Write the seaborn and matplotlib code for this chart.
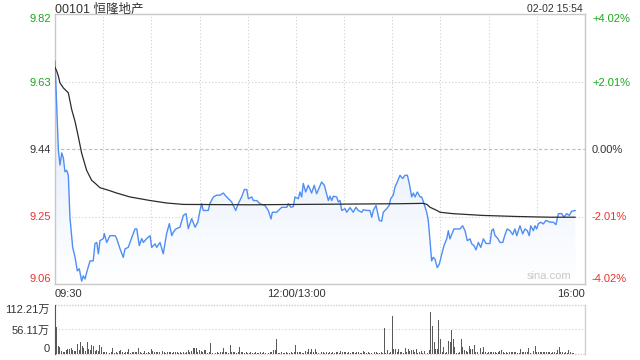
import numpy as np
import pandas as pd
import matplotlib
matplotlib.use("Agg")
import matplotlib.pyplot as plt
import seaborn as sns

# ---------------- data ----------------
title = "00101 恒隆地产"
stamp = "02-02 15:54"
prev_close = 9.44
price_ticks = [9.06, 9.25, 9.44, 9.63, 9.82]
price_tick_labels = ["9.06", "9.25", "9.44", "9.63", "9.82"]
pct_tick_labels = ["-4.02%", "-2.01%", "0.00%", "+2.01%", "+4.02%"]
time_tick_pos = [0, 150, 330]
time_tick_labels = ["09:30", "12:00/13:00", "16:00"]
vol_ticks = [0, 56.11, 112.21]
vol_tick_labels = ["0", "56.11万", "112.21万"]

# minutes since 09:30 (lunch break removed) and price
price_t = [0, 2.1, 3.1, 4.2, 5.2, 6.2, 7.3, 8.3, 9.3, 11, 12.5, 13.9, 15.1, 16.6, 17.6, 18.7, 19.7,
           21.8, 23.8, 24.9, 26, 27, 28, 30.1, 30.7, 32.2, 34.2, 37.4, 38.4, 40.5, 42.5, 43.6, 45.6,
           47.8, 49.8, 50.9, 52.5, 54, 55, 57.1, 59.2, 60.2, 62.3, 63.3, 65.4, 67.4, 69.5, 71.2,
           72.7, 73.7, 75.3, 77.8, 79.9, 81.6, 83, 85.1, 87.2, 88.9, 90.3, 91.3, 92.3, 95.4, 96.5,
           98.6, 100.7, 102.7, 104.8, 106.9, 110, 112.5, 114.1, 116.2, 117.9, 119.4, 120.4, 122.5,
           123.5, 125.6, 127.6, 130.8, 132.8, 134.5, 135.3, 138, 141.2, 144.3, 145.3, 146.9, 148.4,
           149.4, 151.5, 152.5, 153.6, 154.6, 156.1, 157.7, 159.8, 161.4, 162.9, 166, 167.7, 170.2,
           171.2, 172.3, 173.3, 175.4, 176.4, 177.5, 178.5, 180.6, 181.6, 183.7, 185.7, 187.4,
           188.8, 191, 192, 194.1, 196.1, 197.2, 198.2, 199.9, 201.9, 203.4, 204.4, 206.5, 208.1,
           209, 210.6, 211.7, 213.1, 214.8, 216.5, 217.9, 219.4, 220.6, 222.1, 223.1, 224.2, 225.6,
           227.3, 228.3, 229.8, 231.4, 232.4, 233.5, 234.5, 235.5, 236.6, 238, 239.3, 240.8, 242.2,
           243.9, 244.9, 245.9, 247.6, 248.4, 252.2, 253.8, 255.3, 256.7, 258.4, 259.5, 260.9,
           262.1, 263.6, 265.1, 266.7, 268.4, 270.8, 271.9, 272.9, 274, 275.4, 277.1, 278.8, 280.2,
           281.6, 283.3, 285, 286.4, 287.5, 289.5, 291.2, 292.6, 294.1, 295.3, 296.2, 297.8, 298.9,
           299.9, 300.9, 302.4, 304, 305.7, 308.2, 310.3, 311.9, 313.4, 315.5, 316.9, 318.6, 320.2,
           321.7, 324]
price_v = [9.688, 9.437, 9.395, 9.429, 9.415, 9.376, 9.380, 9.366, 9.248, 9.163, 9.135, 9.097, 9.103,
           9.068, 9.083, 9.074, 9.092, 9.125, 9.125, 9.174, 9.177, 9.145, 9.182, 9.188, 9.202, 9.177,
           9.196, 9.196, 9.188, 9.159, 9.135, 9.159, 9.163, 9.191, 9.215, 9.215, 9.168, 9.188, 9.177,
           9.188, 9.196, 9.163, 9.173, 9.163, 9.177, 9.145, 9.202, 9.230, 9.196, 9.206, 9.215, 9.220,
           9.253, 9.258, 9.216, 9.244, 9.220, 9.234, 9.267, 9.286, 9.267, 9.267, 9.287, 9.305, 9.310,
           9.310, 9.316, 9.305, 9.291, 9.267, 9.286, 9.305, 9.326, 9.326, 9.300, 9.305, 9.295, 9.295,
           9.286, 9.281, 9.267, 9.243, 9.262, 9.262, 9.276, 9.276, 9.286, 9.276, 9.278, 9.305, 9.300,
           9.319, 9.305, 9.343, 9.319, 9.338, 9.316, 9.338, 9.314, 9.347, 9.338, 9.295, 9.307, 9.295,
           9.307, 9.305, 9.291, 9.295, 9.267, 9.272, 9.262, 9.275, 9.262, 9.276, 9.267, 9.262, 9.269,
           9.267, 9.267, 9.248, 9.267, 9.281, 9.239, 9.237, 9.262, 9.272, 9.281, 9.300, 9.310, 9.333,
           9.347, 9.366, 9.357, 9.366, 9.366, 9.343, 9.305, 9.316, 9.305, 9.319, 9.305, 9.305, 9.286,
           9.262, 9.239, 9.182, 9.125, 9.135, 9.130, 9.106, 9.116, 9.144, 9.168, 9.187, 9.210, 9.187,
           9.206, 9.215, 9.215, 9.224, 9.210, 9.182, 9.187, 9.173, 9.168, 9.156, 9.177, 9.163, 9.187,
           9.174, 9.174, 9.210, 9.215, 9.196, 9.190, 9.177, 9.177, 9.199, 9.215, 9.210, 9.199, 9.215,
           9.196, 9.224, 9.201, 9.215, 9.210, 9.196, 9.224, 9.210, 9.224, 9.215, 9.229, 9.234, 9.229,
           9.239, 9.234, 9.234, 9.227, 9.258, 9.258, 9.248, 9.258, 9.253, 9.265, 9.267]

avg_t = [0, 1.1, 2.1, 3.1, 5.2, 8.3, 10.4, 12.5, 14.5, 16.6, 19.7, 22.8, 24.9, 28, 33.2, 38.4, 46.7,
         59.2, 69.5, 79.9, 121.4, 152.5, 183.7, 214.8, 229.1, 231.6, 233.5, 237.8, 239.7, 247.8,
         266.5, 287.7, 308.2, 324]
avg_v = [9.670, 9.659, 9.645, 9.626, 9.612, 9.598, 9.551, 9.517, 9.475, 9.428, 9.380, 9.352, 9.344,
         9.331, 9.324, 9.316, 9.305, 9.295, 9.288, 9.284, 9.283, 9.284, 9.285, 9.286, 9.287, 9.284,
         9.276, 9.267, 9.262, 9.258, 9.253, 9.250, 9.248, 9.248]

# volume per minute (万股), minutes 0..324
volume = [
    112.2, 62.6, 18, 17, 7.6, 5, 4, 9, 11, 11, 13, 9, 7.6, 6, 24, 10, 27, 18, 13, 8, 27, 10.7, 9, 21, 19,
    7.6, 9, 6, 21, 15, 5, 5, 4, 9, 3, 4, 14.5, 3, 4, 3, 6, 9, 4, 3, 5, 4, 11, 3, 4, 5,
    4, 5, 14.5, 4, 3, 3, 7.6, 3, 5, 3, 11, 7.6, 5, 4, 5, 5, 3, 6, 4, 3, 5, 4, 5, 3, 4,
    5, 4, 3, 4, 3, 5, 3, 4, 9, 4, 7.6, 14.5, 13, 13, 5, 9, 7.6, 4, 9, 9, 3, 4, 26, 3, 4,
    3, 4, 3, 5, 4, 14.5, 4, 5, 3, 20.6, 4, 5, 5, 3, 4, 16.8, 5, 5, 3, 4, 3, 3, 4, 3, 3,
    4, 3, 3, 4, 3, 4, 3, 4, 3, 5, 4, 9, 9, 34, 3, 3, 5, 3, 3, 4, 3, 3, 5, 3, 4,
    20.6, 5, 4, 4.6, 3, 3, 7.6, 4, 10.7, 5, 11, 4, 10.7, 4, 3, 5, 4, 5, 3, 4, 3, 4, 3, 4, 3,
    5, 4, 3, 7.6, 5, 4, 4, 3, 5, 3, 4, 5, 3, 4, 5, 3, 3, 7.6, 4, 3, 5, 3, 3, 7.6, 4,
    5, 3, 3, 4, 3, 60.3, 3, 9, 3, 4, 87, 10.7, 11, 4, 11, 5, 5, 3, 14.5, 4, 11, 7.6, 9, 9, 4,
    11, 3, 5, 7.6, 3, 7.6, 57, 3, 9, 95.4, 65, 28, 11, 11, 78, 33.6, 5, 16.8, 3, 3.8, 29.8, 28, 55, 33.6, 16.8,
    3, 3, 4, 34, 16.8, 9, 7.6, 4, 19, 11, 10.7, 20.6, 4, 5, 10.7, 13, 4, 16.8, 5, 3, 5, 4, 4, 5, 5,
    3, 4, 7.6, 9, 4, 3, 4, 3, 5, 4, 3.8, 4, 5, 3, 3, 11, 4, 5, 4, 5, 13, 3, 4, 7.6, 18.3,
    4, 5, 4, 3.8, 4, 5, 4, 5, 4, 3, 5, 4, 3, 9, 15, 4, 5, 3, 4, 3, 9, 5, 3, 3,
]

# ---------------- style ----------------
sns.set_theme(style="white")
plt.rcParams["font.family"] = ["Liberation Sans", "Noto Sans CJK SC", "DejaVu Sans"]
plt.rcParams["axes.unicode_minus"] = False

GREEN = "#1aa61a"
RED = "#f0302a"
DARK = "#333333"
BLUE = "#4f8ef5"
GRID = "#cfcfcf"

fig = plt.figure(figsize=(6.4, 3.6), dpi=100)
ax = fig.add_axes([55 / 640, 1 - 284 / 360, 530 / 640, 270 / 360])
axv = fig.add_axes([55 / 640, 1 - 354 / 360, 530 / 640, 49 / 360])

price_df = pd.DataFrame({"t": price_t, "p": price_v})
avg_df = pd.DataFrame({"t": avg_t, "p": avg_v})

ax.set_xlim(0, 330)
ax.set_ylim(price_ticks[0], price_ticks[-1])

# gradient fill under price line
poly = ax.fill_between(price_df["t"], price_df["p"], price_ticks[0], facecolor="none", edgecolor="none")
top_c = np.array([0.86, 0.91, 0.985])
bot_c = np.array([1.0, 1.0, 1.0])
n = 256
frac = np.linspace(0, 1, n)[:, None]
grad = (bot_c * (1 - frac) + top_c * frac)[:, None, :]
img = ax.imshow(grad, extent=[0, 330, price_ticks[0], max(price_v)], origin="lower",
                aspect="auto", zorder=1)
img.set_clip_path(poly.get_paths()[0], transform=ax.transData)

# grid
for x in range(30, 330, 30):
    ax.axvline(x, color=GRID, lw=0.8, ls=(0, (1, 2)), zorder=0.5)
for y in (9.25, 9.63):
    ax.axhline(y, color=GRID, lw=0.8, ls=(0, (1, 2)), zorder=0.5)
ax.axhline(prev_close, color="#bdbdbd", lw=0.8, ls=(0, (3, 2)), zorder=0.5)

sns.lineplot(data=price_df, x="t", y="p", ax=ax, color=BLUE, lw=1.0, zorder=3, estimator=None, sort=False)
sns.lineplot(data=avg_df, x="t", y="p", ax=ax, color="#2b2b2b", lw=0.9, zorder=4, estimator=None, sort=False)

ax.set_xlabel("")
ax.set_ylabel("")
ax.set_xticks([])
for s in ax.spines.values():
    s.set_color("#c8c8c8")
    s.set_linewidth(1.0)

# left price labels
ax.set_yticks(price_ticks)
ax.set_yticklabels(price_tick_labels)
ax.tick_params(axis="y", length=0, pad=3, labelsize=8)
left_colors = [RED, RED, DARK, GREEN, GREEN]
for i, lab in enumerate(ax.get_yticklabels()):
    lab.set_color(left_colors[i])
    if i == 0:
        lab.set_va("bottom")
    elif i == len(price_ticks) - 1:
        lab.set_va("top")

axr = ax.twinx()
axr.set_ylim(ax.get_ylim())
axr.set_yticks(price_ticks)
axr.set_yticklabels(pct_tick_labels)
axr.tick_params(axis="y", length=0, pad=5, labelsize=8)
for i, lab in enumerate(axr.get_yticklabels()):
    lab.set_color(left_colors[i])
    if i == 0:
        lab.set_va("bottom")
    elif i == len(price_ticks) - 1:
        lab.set_va("top")
for s in axr.spines.values():
    s.set_visible(False)
axr.grid(False)

# time labels
for pos, lab in zip(time_tick_pos, time_tick_labels):
    ha = "left" if pos == 0 else ("right" if pos == 330 else "center")
    ax.text(pos, -0.018, lab, transform=ax.get_xaxis_transform(), ha=ha, va="top",
            fontsize=8, color=DARK)

ax.text(0.975, 0.012, "sina.com", transform=ax.transAxes, ha="right", va="bottom",
        fontsize=8, color="#c8c8c8", zorder=5)

fig.text(55 / 640, 1 - 13 / 360, title, ha="left", va="baseline", fontsize=9, color=DARK)
fig.text(583 / 640, 1 - 12.5 / 360, stamp, ha="right", va="baseline", fontsize=7.5, color=DARK)

# volume
minutes = np.arange(len(volume))
axv.bar(minutes, volume, width=0.62, color="#5a5a5a", linewidth=0, zorder=3)
axv.set_xlim(0, 330)
axv.set_ylim(0, vol_ticks[-1])
axv.set_xticks([])
axv.set_yticks(vol_ticks)
axv.set_yticklabels(vol_tick_labels)
axv.tick_params(axis="y", length=0, pad=4, labelsize=8, labelcolor=DARK)
vl = axv.get_yticklabels()
vl[0].set_va("bottom")
vl[-1].set_va("top")
axv.axhline(vol_ticks[1], color=GRID, lw=0.8, ls=(0, (1, 2)), zorder=0.5)
axv.axhline(vol_ticks[2], color=GRID, lw=1.0, ls=(0, (1, 1)), zorder=0.5, clip_on=False)
axv.axhline(0, color=GRID, lw=1.0, ls=(0, (1, 1)), zorder=0.5, clip_on=False)
axv.spines["top"].set_visible(False)
axv.spines["bottom"].set_visible(False)
axv.spines["left"].set_color("#555555")
axv.spines["left"].set_linewidth(0.8)
axv.spines["right"].set_color("#d0d0d0")
axv.spines["right"].set_linewidth(1.0)
axv.set_xlabel("")
axv.set_ylabel("")

fig.savefig("out.png", dpi=100)
